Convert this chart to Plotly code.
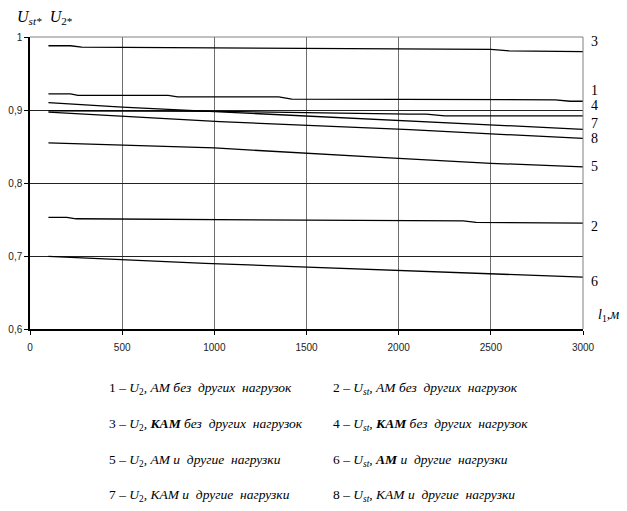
import plotly.graph_objects as go

# ---- data ----
x_c1 = [100, 220, 260, 750, 800, 1350, 1420, 2250, 2320, 2850, 2930, 3000]
y_c1 = [0.922, 0.922, 0.920, 0.920, 0.918, 0.918, 0.915, 0.915, 0.914, 0.914, 0.912, 0.912]
x_c2 = [100, 200, 250, 2000, 2050, 2350, 2420, 3000]
y_c2 = [0.753, 0.753, 0.751, 0.749, 0.748, 0.748, 0.746, 0.745]
x_c3 = [100, 220, 280, 2000, 2100, 2500, 2600, 2880, 2950, 3000]
y_c3 = [0.988, 0.988, 0.986, 0.984, 0.983, 0.983, 0.981, 0.981, 0.980, 0.980]
x_c4 = [100, 1030, 2060, 2150, 2250, 3000]
y_c4 = [0.899, 0.898, 0.8944, 0.8944, 0.892, 0.892]
x_c5 = [100, 1000, 1900, 2500, 3000]
y_c5 = [0.855, 0.848, 0.835, 0.827, 0.822]
x_c6 = [100, 480, 950, 1430, 1900, 2380, 3000]
y_c6 = [0.6995, 0.695, 0.690, 0.6855, 0.681, 0.677, 0.671]
x_c7 = [100, 500, 1030, 2060, 3000]
y_c7 = [0.910, 0.904, 0.8975, 0.885, 0.8735]
x_c8 = [100, 1030, 2060, 3000]
y_c8 = [0.897, 0.884, 0.873, 0.861]

curve_names = ["1", "2", "3", "4", "5", "6", "7", "8"]
x_ticks = [0, 500, 1000, 1500, 2000, 2500, 3000]
x_tick_labels = ["0", "500", "1000", "1500", "2000", "2500", "3000"]
y_ticks = [0.6, 0.7, 0.8, 0.9, 1.0]
y_tick_labels = ["0,6", "0,7", "0,8", "0,9", "1"]

legend_rows = [
    ("1 – <i>U</i><sub>2</sub><i>, АМ без  других  нагрузок</i>",
     "2 – <i>U</i><sub><i>st</i></sub><i>, АМ без  других  нагрузок</i>"),
    ("3 – <i>U</i><sub>2</sub><i>, <b>КАМ</b> без  других  нагрузок</i>",
     "4 – <i>U</i><sub><i>st</i></sub><i>, <b>КАМ</b> без  других  нагрузок</i>"),
    ("5 – <i>U</i><sub>2</sub><i>, АМ и  другие  нагрузки</i>",
     "6 – <i>U</i><sub><i>st</i></sub><i>, <b>АМ</b> и  другие  нагрузки</i>"),
    ("7 – <i>U</i><sub>2</sub><i>, КАМ и  другие  нагрузки</i>",
     "8 – <i>U</i><sub><i>st</i></sub><i>, КАМ и  другие  нагрузки</i>"),
]

series = [(x_c1, y_c1), (x_c2, y_c2), (x_c3, y_c3), (x_c4, y_c4),
          (x_c5, y_c5), (x_c6, y_c6), (x_c7, y_c7), (x_c8, y_c8)]

fig = go.Figure()
for name, (xs, ys) in zip(curve_names, series):
    fig.add_trace(go.Scatter(x=xs, y=ys, mode="lines", name=name,
                             line=dict(color="black", width=1.3),
                             showlegend=False, hoverinfo="skip"))

# page body has an 8px default margin: compensate
OFF = 8
W, H = 627 - OFF, 511 - OFF
L, R, T = 30 - OFF, 44, 37 - OFF
B = H - (329.5 - OFF)
pw, ph = W - L - R, H - T - B

def px(xp):
    return (xp - OFF - L) / pw

def py(yp):
    return (H - B - (yp - OFF)) / ph

serif = "Liberation Serif, Times New Roman, serif"
sans = "Liberation Sans, Arial, sans-serif"

annotations = []
label_pos = {"3": 41.7, "1": 91, "4": 106, "7": 123.7, "8": 139, "5": 166.7, "2": 226.7, "6": 281.7}
for name in curve_names:
    annotations.append(dict(xref="paper", yref="paper", x=px(594), y=py(label_pos[name]),
                            text=name, showarrow=False, xanchor="center", yanchor="middle",
                            font=dict(family=serif, size=14, color="black")))
annotations.append(dict(xref="paper", yref="paper", x=px(15), y=py(17),
                        text="<i>U</i><sub><i>st*</i></sub>  <i>U</i><sub>2*</sub>",
                        showarrow=False, xanchor="left", yanchor="middle",
                        font=dict(family=serif, size=16, color="black")))
annotations.append(dict(xref="paper", yref="paper", x=px(596), y=py(316),
                        text="<i>l</i><sub>1</sub><i>,м</i>",
                        showarrow=False, xanchor="left", yanchor="middle",
                        font=dict(family=serif, size=14, color="black")))
row_y = [389, 425, 461, 496]
for (left, right), yy in zip(legend_rows, row_y):
    annotations.append(dict(xref="paper", yref="paper", x=px(107), y=py(yy), text=left,
                            showarrow=False, xanchor="left", yanchor="middle",
                            font=dict(family=serif, size=13.5, color="black")))
    annotations.append(dict(xref="paper", yref="paper", x=px(331), y=py(yy), text=right,
                            showarrow=False, xanchor="left", yanchor="middle",
                            font=dict(family=serif, size=13.5, color="black")))

shapes = [
    dict(type="line", xref="paper", yref="paper", x0=0, x1=1, y0=1, y1=1,
         line=dict(color="#808080", width=1)),
    dict(type="line", xref="paper", yref="paper", x0=1, x1=1, y0=0, y1=1,
         line=dict(color="#808080", width=1)),
]

fig.update_layout(
    width=W, height=H,
    margin=dict(l=L, r=R, t=T, b=B, pad=0, autoexpand=False),
    plot_bgcolor="white", paper_bgcolor="white",
    annotations=annotations, shapes=shapes,
    xaxis=dict(range=[0, 3000], tickvals=x_ticks, ticktext=x_tick_labels,
               showgrid=True, gridcolor="#6e6e6e", gridwidth=1,
               showline=True, linecolor="black", linewidth=1.5,
               ticks="outside", ticklen=4, tickcolor="black",
               ticklabelstandoff=4,
               tickfont=dict(family=sans, size=10, color="#222"),
               zeroline=False, fixedrange=True, automargin=False),
    yaxis=dict(range=[0.6, 1.0], tickvals=y_ticks, ticktext=y_tick_labels,
               showgrid=True, gridcolor="#222", gridwidth=1,
               showline=True, linecolor="black", linewidth=1.5,
               ticks="outside", ticklen=4, tickcolor="black",
               tickfont=dict(family=sans, size=10, color="#222"),
               zeroline=False, fixedrange=True, automargin=False),
)

fig.write_html("out.html")
